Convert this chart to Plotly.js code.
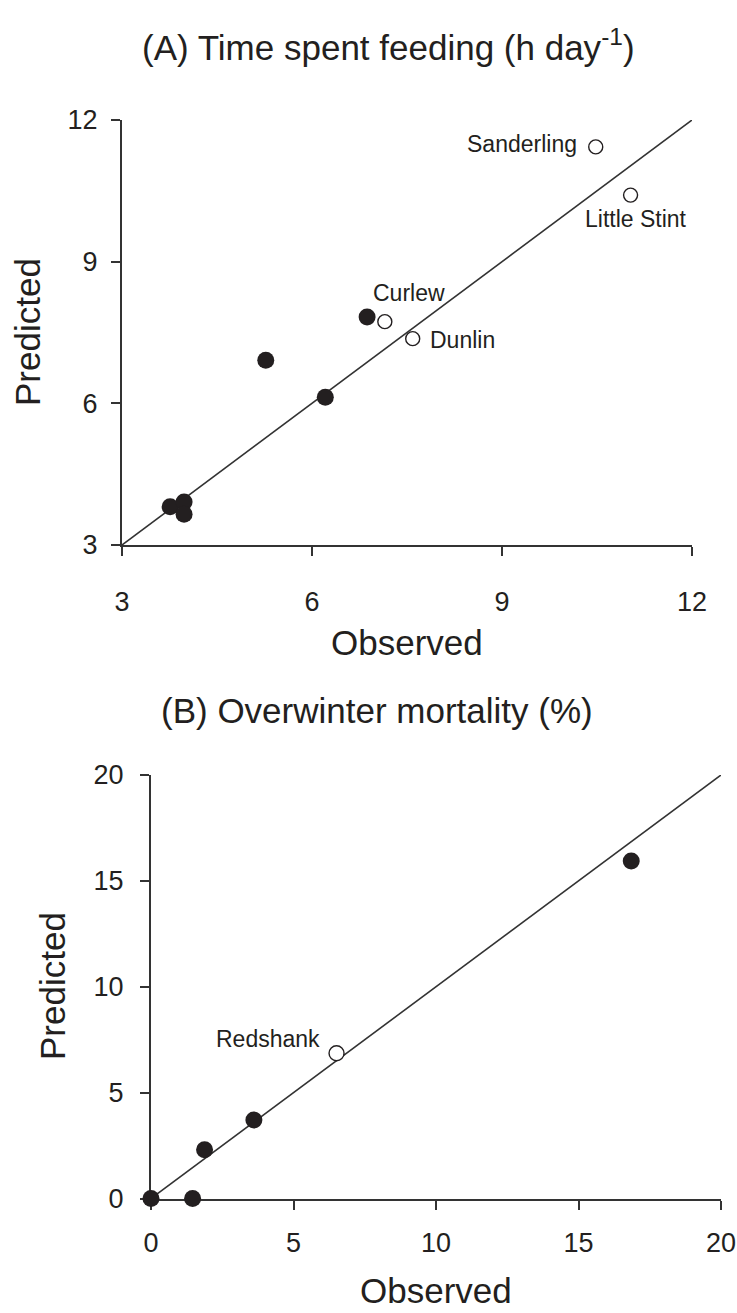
<!DOCTYPE html>
<html>
<head>
<meta charset="utf-8">
<script src="https://cdn.plot.ly/plotly-3.0.1.min.js"></script>
<style>
  html, body { margin: 0; padding: 0; background: #fff; }
  #chart { width: 737px; height: 1313px; }
</style>
</head>
<body>
<div id="chart"></div>
<script>
// ---------- Panel A: Time spent feeding (h day-1) ----------
const aFilledObserved  = [3.76, 3.98, 3.98, 5.27, 6.21, 6.87];
const aFilledPredicted = [3.81, 3.91, 3.65, 6.91, 6.13, 7.83];
const aOpenNames     = ["Curlew", "Dunlin", "Sanderling", "Little Stint"];
const aOpenObserved  = [7.15, 7.59, 10.48, 11.03];
const aOpenPredicted = [7.73, 7.37, 11.43, 10.41];
const aLine = [3, 12];
const aTicks = [3, 6, 9, 12];

// ---------- Panel B: Overwinter mortality (%) ----------
const bFilledObserved  = [0, 1.46, 1.88, 3.61, 16.85];
const bFilledPredicted = [0, 0, 2.30, 3.71, 15.94];
const bOpenNames     = ["Redshank"];
const bOpenObserved  = [6.51];
const bOpenPredicted = [6.86];
const bLine = [0, 20];
const bTicks = [0, 5, 10, 15, 20];

const W = 737, H = 1313;
const FONT = "Liberation Sans, Arial, Helvetica, sans-serif";
const INK = "#231f20";

function px2x(p) { return p / W; }
function px2y(p) { return 1 - p / H; }

const traces = [
  { x: aLine, y: aLine, mode: "lines", line: { color: "#333", width: 1.6 },
    xaxis: "x", yaxis: "y", hoverinfo: "skip", cliponaxis: false },
  { x: aFilledObserved, y: aFilledPredicted, mode: "markers",
    marker: { symbol: "circle", size: 17, color: INK, line: { width: 0 } },
    xaxis: "x", yaxis: "y", cliponaxis: false },
  { x: aOpenObserved, y: aOpenPredicted, mode: "markers", text: aOpenNames,
    marker: { symbol: "circle", size: 14, color: "#fff", line: { color: INK, width: 1.4 } },
    xaxis: "x", yaxis: "y", cliponaxis: false },

  { x: bLine, y: bLine, mode: "lines", line: { color: "#333", width: 1.6 },
    xaxis: "x2", yaxis: "y2", hoverinfo: "skip", cliponaxis: false },
  { x: bFilledObserved, y: bFilledPredicted, mode: "markers",
    marker: { symbol: "circle", size: 17, color: INK, line: { width: 0 } },
    xaxis: "x2", yaxis: "y2", cliponaxis: false },
  { x: bOpenObserved, y: bOpenPredicted, mode: "markers", text: bOpenNames,
    marker: { symbol: "circle", size: 15, color: "#fff", line: { color: INK, width: 1.4 } },
    xaxis: "x2", yaxis: "y2", cliponaxis: false }
];

function axisBase(extra) {
  return Object.assign({
    showgrid: false, zeroline: false, showline: true,
    linecolor: "#333", linewidth: 2,
    ticks: "outside", ticklen: 9, tickwidth: 2, tickcolor: "#333",
    tickfont: { family: FONT, size: 27, color: INK },
    layer: "below traces", fixedrange: true, tickmode: "array"
  }, extra);
}

// label offsets (pixels) relative to their points
const aLabelStyle = {
  "Curlew":       { xanchor: "center", xshift: 24,  yshift: 29 },
  "Dunlin":       { xanchor: "left",   xshift: 15,  yshift: -1 },
  "Sanderling":   { xanchor: "right",  xshift: -17, yshift: 3 },
  "Little Stint": { xanchor: "center", xshift: 5,   yshift: -24 }
};
const bLabelStyle = {
  "Redshank":     { xanchor: "right",  xshift: -15, yshift: 14 }
};

const annotations = [];
aOpenNames.forEach((n, i) => {
  const s = aLabelStyle[n];
  annotations.push({ xref: "x", yref: "y", x: aOpenObserved[i], y: aOpenPredicted[i],
    text: n, showarrow: false, xanchor: s.xanchor, yanchor: "middle",
    xshift: s.xshift, yshift: s.yshift, font: { family: FONT, size: 23, color: INK } });
});
bOpenNames.forEach((n, i) => {
  const s = bLabelStyle[n];
  annotations.push({ xref: "x2", yref: "y2", x: bOpenObserved[i], y: bOpenPredicted[i],
    text: n, showarrow: false, xanchor: s.xanchor, yanchor: "middle",
    xshift: s.xshift, yshift: s.yshift, font: { family: FONT, size: 23, color: INK } });
});

// titles and axis titles
const titleFont = { family: FONT, size: 35, color: INK };
annotations.push(
  { xref: "paper", yref: "paper", x: px2x(388), y: px2y(45), xanchor: "center", yanchor: "middle",
    text: "(A) Time spent feeding (h day<sup>-1</sup>)", showarrow: false, font: titleFont },
  { xref: "paper", yref: "paper", x: px2x(377), y: px2y(711), xanchor: "center", yanchor: "middle",
    text: "(B) Overwinter mortality (%)", showarrow: false, font: titleFont },
  { xref: "paper", yref: "paper", x: px2x(407), y: px2y(642), xanchor: "center", yanchor: "middle",
    text: "Observed", showarrow: false, font: titleFont },
  { xref: "paper", yref: "paper", x: px2x(27), y: px2y(332), xanchor: "center", yanchor: "middle",
    text: "Predicted", textangle: -90, showarrow: false, font: titleFont },
  { xref: "paper", yref: "paper", x: px2x(436), y: px2y(1290), xanchor: "center", yanchor: "middle",
    text: "Observed", showarrow: false, font: titleFont },
  { xref: "paper", yref: "paper", x: px2x(52), y: px2y(986), xanchor: "center", yanchor: "middle",
    text: "Predicted", textangle: -90, showarrow: false, font: titleFont }
);

const layout = {
  width: W, height: H,
  margin: { l: 0, r: 0, t: 0, b: 0 },
  paper_bgcolor: "#fff", plot_bgcolor: "#fff",
  showlegend: false,
  xaxis: axisBase({ domain: [px2x(122), px2x(692)], range: [3, 12], tickvals: aTicks,
    anchor: "y", ticklabelstandoff: 23 }),
  yaxis: axisBase({ domain: [px2y(545), px2y(120)], range: [3, 12], tickvals: aTicks,
    anchor: "x", ticklabelstandoff: 8 }),
  xaxis2: axisBase({ domain: [px2x(151), px2x(721)], range: [0, 20], tickvals: bTicks,
    anchor: "y2", ticklabelstandoff: 10 }),
  yaxis2: axisBase({ domain: [px2y(1198.5), px2y(775)], range: [0, 20], tickvals: bTicks,
    anchor: "x2", ticklabelstandoff: 11 }),
  annotations: annotations
};

Plotly.newPlot("chart", traces, layout, { staticPlot: true, displayModeBar: false });
</script>
</body>
</html>
